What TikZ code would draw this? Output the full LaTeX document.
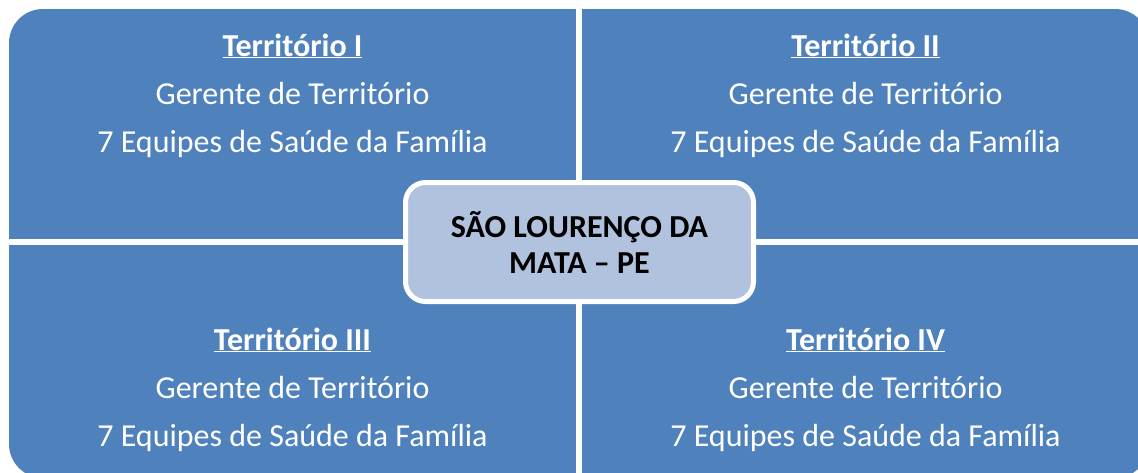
\documentclass[tikz,border=0pt]{standalone}
\usepackage{fontspec}
\setmainfont{Carlito}
\usetikzlibrary{positioning}
\definecolor{quadblue}{HTML}{4F81BD}
\definecolor{cityblue}{HTML}{B1C2DE}
\tikzset{
  every picture/.style={line width=0.8pt},
  quadtext/.style={text=white, align=center, anchor=base, font=\fontsize{32}{48}\selectfont},
  citybox/.style={draw=white, line width=5pt, fill=cityblue, rounded corners=20pt, minimum width=348pt, minimum height=119pt, align=center, font=\fontsize{32}{36}\selectfont\bfseries}
}
\newcommand{\terr}[1]{\textbf{\underline{#1}}}
\begin{document}
\begin{tikzpicture}[x=1pt, y=-1pt]
    \useasboundingbox (0,0) rectangle (1138,472);
    \clip (0,0) rectangle (1138,472);
    % Four territories as one rounded block split by a white cross
    \fill[quadblue, rounded corners=34pt] (9,9) rectangle (1149,478);
    \fill[white] (576,0) rectangle (582,480);
    \fill[white] (0,239) rectangle (1150,245);

    % Territory texts (anchored at the baseline of the last line)
    \node[quadtext] (TI) at (292.5,152) {\terr{Território I}\\Gerente de Território\\7 Equipes de Saúde da Família};
    \node[quadtext] (TII) at (865.5,152) {\terr{Território II}\\Gerente de Território\\7 Equipes de Saúde da Família};
    \node[quadtext] (TIII) at (292.5,446) {\terr{Território III}\\Gerente de Território\\7 Equipes de Saúde da Família};
    \node[quadtext] (TIV) at (865.5,446) {\terr{Território IV}\\Gerente de Território\\7 Equipes de Saúde da Família};

    % Municipality in the centre
    \node[citybox] (city) at (579.5,242) {SÃO LOURENÇO DA\\MATA – PE};
\end{tikzpicture}
\end{document}
